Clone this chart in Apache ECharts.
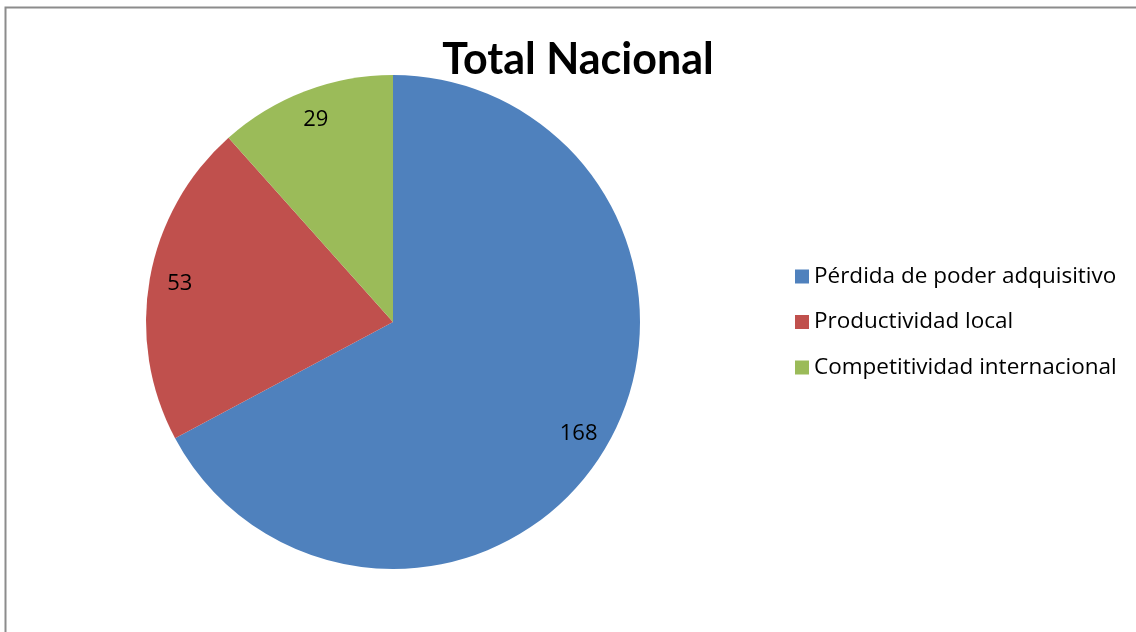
<!DOCTYPE html>
<html><head><meta charset="utf-8">
<script src="https://cdn.jsdelivr.net/npm/echarts@6/dist/echarts.min.js"></script>
<style>html,body{margin:0;padding:0;background:#fff;}#c{width:1136px;height:632px;}</style>
</head><body><div id="c"></div>
<script>
const categories = ['Pérdida de poder adquisitivo', 'Productividad local', 'Competitividad internacional'];
const values = [168, 53, 29];
const colors = ['#4F81BD', '#C0504D', '#9BBB59'];
const titleText = 'Total Nacional';

const data = categories.map((n, i) => ({ name: n, value: values[i], itemStyle: { color: colors[i] } }));
const labelData = categories.map((n, i) => ({ name: n, value: values[i] }));

const chart = echarts.init(document.getElementById('c'), null, { renderer: 'canvas' });
chart.setOption({
  animation: false,
  backgroundColor: '#fff',
  graphic: [{
    type: 'rect', shape: { x: 5.5, y: 7.5, width: 1200, height: 700 },
    style: { fill: 'none', stroke: '#8c8c8c', lineWidth: 2 }, silent: true, z: -1
  }],
  title: {
    text: titleText, left: 573, top: 34, textAlign: 'center',
    textStyle: { fontFamily: 'Lato', fontWeight: 'bold', fontSize: 43, color: '#000' }
  },
  legend: {
    orient: 'vertical', left: 790, top: 260, itemGap: 22.5, itemWidth: 14, itemHeight: 14,
    icon: 'rect', data: categories,
    textStyle: { fontFamily: 'Open Sans', fontSize: 22.5, color: '#000' }
  },
  series: [{
    type: 'pie', center: [393, 322], radius: [0, 247], startAngle: 90, clockwise: true,
    label: { show: false }, labelLine: { show: false }, data: data, silent: true
  }, {
    type: 'pie', center: [393, 322], radius: [180, 247], startAngle: 90, clockwise: true,
    itemStyle: { color: 'rgba(0,0,0,0)' }, silent: true, legendHoverLink: false,
    label: { show: true, position: 'inside', formatter: '{c}', fontFamily: 'Open Sans', fontSize: 22, color: '#000' },
    labelLine: { show: false }, data: labelData
  }]
});
</script></body></html>
